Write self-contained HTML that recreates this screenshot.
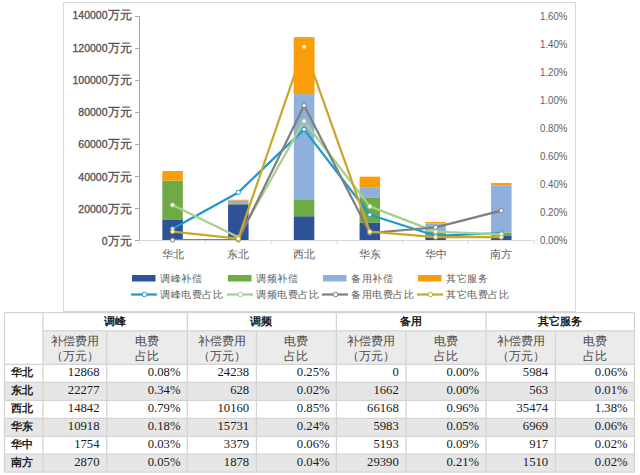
<!DOCTYPE html>
<html><head><meta charset="utf-8">
<style>
html,body{margin:0;padding:0;background:#fff;width:640px;height:475px;overflow:hidden;position:relative}
.ax{font-family:"Liberation Sans",sans-serif;font-size:10.5px;fill:#595959}
.b{fill:#505050;stroke:#505050;stroke-width:0.3px}
.r{font-size:11px;fill:#606060}
.cj{font-size:11.5px}
.lg{font-size:10px;letter-spacing:0.55px}
.th{font-family:"Liberation Serif",serif;font-size:11px;font-weight:bold;fill:#1a1a1a}
.sh{font-family:"Liberation Serif",serif;font-size:12px;fill:#4a4a4a}
.rn{font-family:"Liberation Serif",serif;font-size:11px;font-weight:bold;fill:#1a1a1a}
.td{font-family:"Liberation Serif",serif;font-size:12.7px;fill:#1a1a1a}
</style></head><body>
<svg width="640" height="475" style="position:absolute;left:0;top:0">
<rect x="63.5" y="2.5" width="512" height="309" fill="#fff" stroke="#D9D9D9" stroke-width="1"/>
<line x1="139.5" y1="16" x2="139.5" y2="240" stroke="#A6A6A6" stroke-width="1"/>
<line x1="135" y1="240.5" x2="140" y2="240.5" stroke="#A6A6A6" stroke-width="1"/>
<text x="131.5" y="245.15" text-anchor="end" class="ax b">0<tspan class="cj">万元</tspan></text>
<line x1="135" y1="208.5" x2="140" y2="208.5" stroke="#A6A6A6" stroke-width="1"/>
<text x="131.5" y="212.90" text-anchor="end" class="ax b">20000<tspan class="cj">万元</tspan></text>
<line x1="135" y1="176.5" x2="140" y2="176.5" stroke="#A6A6A6" stroke-width="1"/>
<text x="131.5" y="180.65" text-anchor="end" class="ax b">40000<tspan class="cj">万元</tspan></text>
<line x1="135" y1="144.5" x2="140" y2="144.5" stroke="#A6A6A6" stroke-width="1"/>
<text x="131.5" y="148.40" text-anchor="end" class="ax b">60000<tspan class="cj">万元</tspan></text>
<line x1="135" y1="112.5" x2="140" y2="112.5" stroke="#A6A6A6" stroke-width="1"/>
<text x="131.5" y="116.15" text-anchor="end" class="ax b">80000<tspan class="cj">万元</tspan></text>
<line x1="135" y1="80.5" x2="140" y2="80.5" stroke="#A6A6A6" stroke-width="1"/>
<text x="131.5" y="83.90" text-anchor="end" class="ax b">100000<tspan class="cj">万元</tspan></text>
<line x1="135" y1="48.5" x2="140" y2="48.5" stroke="#A6A6A6" stroke-width="1"/>
<text x="131.5" y="51.65" text-anchor="end" class="ax b">120000<tspan class="cj">万元</tspan></text>
<line x1="135" y1="16.5" x2="140" y2="16.5" stroke="#A6A6A6" stroke-width="1"/>
<text x="131.5" y="19.40" text-anchor="end" class="ax b">140000<tspan class="cj">万元</tspan></text>
<text x="567.5" y="243.5" text-anchor="end" class="ax r" textLength="27.5" lengthAdjust="spacingAndGlyphs">0.00%</text>
<text x="567.5" y="215.5" text-anchor="end" class="ax r" textLength="27.5" lengthAdjust="spacingAndGlyphs">0.20%</text>
<text x="567.5" y="187.5" text-anchor="end" class="ax r" textLength="27.5" lengthAdjust="spacingAndGlyphs">0.40%</text>
<text x="567.5" y="159.5" text-anchor="end" class="ax r" textLength="27.5" lengthAdjust="spacingAndGlyphs">0.60%</text>
<text x="567.5" y="131.5" text-anchor="end" class="ax r" textLength="27.5" lengthAdjust="spacingAndGlyphs">0.80%</text>
<text x="567.5" y="103.5" text-anchor="end" class="ax r" textLength="27.5" lengthAdjust="spacingAndGlyphs">1.00%</text>
<text x="567.5" y="75.5" text-anchor="end" class="ax r" textLength="27.5" lengthAdjust="spacingAndGlyphs">1.20%</text>
<text x="567.5" y="47.5" text-anchor="end" class="ax r" textLength="27.5" lengthAdjust="spacingAndGlyphs">1.40%</text>
<text x="567.5" y="19.5" text-anchor="end" class="ax r" textLength="27.5" lengthAdjust="spacingAndGlyphs">1.60%</text>
<line x1="140" y1="240.5" x2="533" y2="240.5" stroke="#D9D9D9" stroke-width="1"/>
<line x1="139.7" y1="240" x2="139.7" y2="244" stroke="#D9D9D9" stroke-width="1"/>
<line x1="205.4" y1="240" x2="205.4" y2="244" stroke="#D9D9D9" stroke-width="1"/>
<line x1="271.2" y1="240" x2="271.2" y2="244" stroke="#D9D9D9" stroke-width="1"/>
<line x1="336.9" y1="240" x2="336.9" y2="244" stroke="#D9D9D9" stroke-width="1"/>
<line x1="402.7" y1="240" x2="402.7" y2="244" stroke="#D9D9D9" stroke-width="1"/>
<line x1="468.4" y1="240" x2="468.4" y2="244" stroke="#D9D9D9" stroke-width="1"/>
<line x1="534.2" y1="240" x2="534.2" y2="244" stroke="#D9D9D9" stroke-width="1"/>
<text x="172.6" y="258" text-anchor="middle" class="ax">华北</text>
<text x="238.3" y="258" text-anchor="middle" class="ax">东北</text>
<text x="304.1" y="258" text-anchor="middle" class="ax">西北</text>
<text x="369.8" y="258" text-anchor="middle" class="ax">华东</text>
<text x="435.6" y="258" text-anchor="middle" class="ax">华中</text>
<text x="501.3" y="258" text-anchor="middle" class="ax">南方</text>
<rect x="162.32" y="219.41" width="20.5" height="20.59" fill="#2E5296"/>
<rect x="162.32" y="180.63" width="20.5" height="38.78" fill="#6EAA45"/>
<rect x="162.32" y="171.06" width="20.5" height="9.57" fill="#FA9D0A"/>
<rect x="228.07" y="204.36" width="20.5" height="35.64" fill="#2E5296"/>
<rect x="228.07" y="203.35" width="20.5" height="1.00" fill="#6EAA45"/>
<rect x="228.07" y="200.69" width="20.5" height="2.66" fill="#8FB0DD"/>
<rect x="228.07" y="199.79" width="20.5" height="0.90" fill="#FA9D0A"/>
<rect x="293.82" y="216.25" width="20.5" height="23.75" fill="#2E5296"/>
<rect x="293.82" y="200.00" width="20.5" height="16.26" fill="#6EAA45"/>
<rect x="293.82" y="94.13" width="20.5" height="105.87" fill="#8FB0DD"/>
<rect x="293.82" y="37.37" width="20.5" height="56.76" fill="#FA9D0A"/>
<rect x="359.57" y="222.53" width="20.5" height="17.47" fill="#2E5296"/>
<rect x="359.57" y="197.36" width="20.5" height="25.17" fill="#6EAA45"/>
<rect x="359.57" y="187.79" width="20.5" height="9.57" fill="#8FB0DD"/>
<rect x="359.57" y="176.64" width="20.5" height="11.15" fill="#FA9D0A"/>
<rect x="425.32" y="237.19" width="20.5" height="2.81" fill="#2E5296"/>
<rect x="425.32" y="231.79" width="20.5" height="5.41" fill="#6EAA45"/>
<rect x="425.32" y="223.48" width="20.5" height="8.31" fill="#8FB0DD"/>
<rect x="425.32" y="222.01" width="20.5" height="1.47" fill="#FA9D0A"/>
<rect x="491.07" y="235.41" width="20.5" height="4.59" fill="#2E5296"/>
<rect x="491.07" y="232.40" width="20.5" height="3.00" fill="#6EAA45"/>
<rect x="491.07" y="185.38" width="20.5" height="47.02" fill="#8FB0DD"/>
<rect x="491.07" y="182.96" width="20.5" height="2.42" fill="#FA9D0A"/>
<defs><clipPath id="pc"><rect x="100" y="0" width="460" height="240"/></clipPath></defs>
<polyline points="172.57,228.80 238.32,192.40 304.07,129.40 369.82,214.80 435.57,235.80 501.32,233.00" fill="none" stroke="#1C9AD0" stroke-width="2.25" stroke-linejoin="round" clip-path="url(#pc)"/>
<circle cx="172.57" cy="228.80" r="2.1" fill="#fff" stroke="#1C9AD0" stroke-width="1"/>
<circle cx="238.32" cy="192.40" r="2.1" fill="#fff" stroke="#1C9AD0" stroke-width="1"/>
<circle cx="304.07" cy="129.40" r="2.1" fill="#fff" stroke="#1C9AD0" stroke-width="1"/>
<circle cx="369.82" cy="214.80" r="2.1" fill="#fff" stroke="#1C9AD0" stroke-width="1"/>
<circle cx="435.57" cy="235.80" r="2.1" fill="#fff" stroke="#1C9AD0" stroke-width="1"/>
<circle cx="501.32" cy="233.00" r="2.1" fill="#fff" stroke="#1C9AD0" stroke-width="1"/>
<polyline points="172.57,205.00 238.32,237.20 304.07,121.00 369.82,206.40 435.57,231.60 501.32,234.40" fill="none" stroke="#A8D08D" stroke-width="2.25" stroke-linejoin="round" clip-path="url(#pc)"/>
<circle cx="172.57" cy="205.00" r="2.1" fill="#fff" stroke="#A8D08D" stroke-width="1"/>
<circle cx="238.32" cy="237.20" r="2.1" fill="#fff" stroke="#A8D08D" stroke-width="1"/>
<circle cx="304.07" cy="121.00" r="2.1" fill="#fff" stroke="#A8D08D" stroke-width="1"/>
<circle cx="369.82" cy="206.40" r="2.1" fill="#fff" stroke="#A8D08D" stroke-width="1"/>
<circle cx="435.57" cy="231.60" r="2.1" fill="#fff" stroke="#A8D08D" stroke-width="1"/>
<circle cx="501.32" cy="234.40" r="2.1" fill="#fff" stroke="#A8D08D" stroke-width="1"/>
<polyline points="172.57,240.00 238.32,240.00 304.07,105.60 369.82,233.00 435.57,227.40 501.32,210.60" fill="none" stroke="#7F7F7F" stroke-width="2.25" stroke-linejoin="round" clip-path="url(#pc)"/>
<circle cx="172.57" cy="240.00" r="2.1" fill="#fff" stroke="#7F7F7F" stroke-width="1"/>
<circle cx="238.32" cy="240.00" r="2.1" fill="#fff" stroke="#7F7F7F" stroke-width="1"/>
<circle cx="304.07" cy="105.60" r="2.1" fill="#fff" stroke="#7F7F7F" stroke-width="1"/>
<circle cx="369.82" cy="233.00" r="2.1" fill="#fff" stroke="#7F7F7F" stroke-width="1"/>
<circle cx="435.57" cy="227.40" r="2.1" fill="#fff" stroke="#7F7F7F" stroke-width="1"/>
<circle cx="501.32" cy="210.60" r="2.1" fill="#fff" stroke="#7F7F7F" stroke-width="1"/>
<polyline points="172.57,231.60 238.32,238.60 304.07,46.80 369.82,231.60 435.57,237.20 501.32,237.20" fill="none" stroke="#C8A82A" stroke-width="2.25" stroke-linejoin="round" clip-path="url(#pc)"/>
<circle cx="172.57" cy="231.60" r="2.1" fill="#fff" stroke="#C8A82A" stroke-width="1"/>
<circle cx="238.32" cy="238.60" r="2.1" fill="#fff" stroke="#C8A82A" stroke-width="1"/>
<circle cx="304.07" cy="46.80" r="2.1" fill="#fff" stroke="#C8A82A" stroke-width="1"/>
<circle cx="369.82" cy="231.60" r="2.1" fill="#fff" stroke="#C8A82A" stroke-width="1"/>
<circle cx="435.57" cy="237.20" r="2.1" fill="#fff" stroke="#C8A82A" stroke-width="1"/>
<circle cx="501.32" cy="237.20" r="2.1" fill="#fff" stroke="#C8A82A" stroke-width="1"/>
<rect x="293.82" y="37.37" width="20.5" height="56.76" fill="#FA9D0A"/>
<circle cx="304.07" cy="46.80" r="2" fill="#FFF3C0"/>
<rect x="132" y="275" width="23.5" height="6.5" fill="#2E5296"/>
<text x="160" y="282" class="ax lg">调峰补偿</text>
<line x1="131" y1="294.5" x2="157" y2="294.5" stroke="#1C9AD0" stroke-width="2.25"/>
<circle cx="144.5" cy="294.5" r="2.3" fill="#fff" stroke="#1C9AD0" stroke-width="1"/>
<text x="160" y="297.5" class="ax lg">调峰电费占比</text>
<rect x="228" y="275" width="23.5" height="6.5" fill="#6EAA45"/>
<text x="256" y="282" class="ax lg">调频补偿</text>
<line x1="227" y1="294.5" x2="253" y2="294.5" stroke="#A8D08D" stroke-width="2.25"/>
<circle cx="240.5" cy="294.5" r="2.3" fill="#fff" stroke="#A8D08D" stroke-width="1"/>
<text x="256" y="297.5" class="ax lg">调频电费占比</text>
<rect x="323" y="275" width="23.5" height="6.5" fill="#8FB0DD"/>
<text x="351" y="282" class="ax lg">备用补偿</text>
<line x1="322" y1="294.5" x2="348" y2="294.5" stroke="#7F7F7F" stroke-width="2.25"/>
<circle cx="335.5" cy="294.5" r="2.3" fill="#fff" stroke="#7F7F7F" stroke-width="1"/>
<text x="351" y="297.5" class="ax lg">备用电费占比</text>
<rect x="418" y="275" width="23.5" height="6.5" fill="#FA9D0A"/>
<text x="446" y="282" class="ax lg">其它服务</text>
<line x1="417" y1="294.5" x2="443" y2="294.5" stroke="#C8A82A" stroke-width="2.25"/>
<circle cx="430.5" cy="294.5" r="2.3" fill="#fff" stroke="#C8A82A" stroke-width="1"/>
<text x="446" y="297.5" class="ax lg">其它电费占比</text>
<rect x="42.9" y="330.8" width="591.5" height="33.599999999999966" fill="#EBEBEB"/>
<rect x="4.5" y="382.4" width="629.9" height="18.0" fill="#E6E6E6"/>
<rect x="4.5" y="418.3" width="629.9" height="18.0" fill="#E6E6E6"/>
<rect x="4.5" y="454.2" width="629.9" height="18.0" fill="#E6E6E6"/>
<line x1="4.5" y1="312.7" x2="634.4" y2="312.7" stroke="#D4D4D4" stroke-width="1.3"/>
<line x1="42.9" y1="330.8" x2="634.4" y2="330.8" stroke="#D4D4D4" stroke-width="1.3"/>
<line x1="4.5" y1="364.4" x2="634.4" y2="364.4" stroke="#D4D4D4" stroke-width="1.3"/>
<line x1="4.5" y1="382.4" x2="634.4" y2="382.4" stroke="#D4D4D4" stroke-width="1.3"/>
<line x1="4.5" y1="400.4" x2="634.4" y2="400.4" stroke="#D4D4D4" stroke-width="1.3"/>
<line x1="4.5" y1="418.3" x2="634.4" y2="418.3" stroke="#D4D4D4" stroke-width="1.3"/>
<line x1="4.5" y1="436.3" x2="634.4" y2="436.3" stroke="#D4D4D4" stroke-width="1.3"/>
<line x1="4.5" y1="454.2" x2="634.4" y2="454.2" stroke="#D4D4D4" stroke-width="1.3"/>
<line x1="4.5" y1="472.2" x2="634.4" y2="472.2" stroke="#D4D4D4" stroke-width="1.3"/>
<line x1="4.5" y1="312.7" x2="4.5" y2="472.2" stroke="#D4D4D4" stroke-width="1.3"/>
<line x1="42.9" y1="312.7" x2="42.9" y2="472.2" stroke="#D4D4D4" stroke-width="1.3"/>
<line x1="106.7" y1="330.8" x2="106.7" y2="472.2" stroke="#D4D4D4" stroke-width="1.3"/>
<line x1="187.3" y1="312.7" x2="187.3" y2="472.2" stroke="#D4D4D4" stroke-width="1.3"/>
<line x1="256.4" y1="330.8" x2="256.4" y2="472.2" stroke="#D4D4D4" stroke-width="1.3"/>
<line x1="336.4" y1="312.7" x2="336.4" y2="472.2" stroke="#D4D4D4" stroke-width="1.3"/>
<line x1="406.0" y1="330.8" x2="406.0" y2="472.2" stroke="#D4D4D4" stroke-width="1.3"/>
<line x1="486.0" y1="312.7" x2="486.0" y2="472.2" stroke="#D4D4D4" stroke-width="1.3"/>
<line x1="555.4" y1="330.8" x2="555.4" y2="472.2" stroke="#D4D4D4" stroke-width="1.3"/>
<line x1="634.4" y1="312.7" x2="634.4" y2="472.2" stroke="#D4D4D4" stroke-width="1.3"/>
<text x="114.6" y="324.7" text-anchor="middle" class="th">调峰</text>
<text x="74.8" y="344.8" text-anchor="middle" class="sh">补偿费用</text>
<text x="74.8" y="359.8" text-anchor="middle" class="sh">（万元）</text>
<text x="147.0" y="344.8" text-anchor="middle" class="sh">电费</text>
<text x="147.0" y="359.8" text-anchor="middle" class="sh">占比</text>
<text x="261.4" y="324.7" text-anchor="middle" class="th">调频</text>
<text x="221.8" y="344.8" text-anchor="middle" class="sh">补偿费用</text>
<text x="221.8" y="359.8" text-anchor="middle" class="sh">（万元）</text>
<text x="296.4" y="344.8" text-anchor="middle" class="sh">电费</text>
<text x="296.4" y="359.8" text-anchor="middle" class="sh">占比</text>
<text x="410.7" y="324.7" text-anchor="middle" class="th">备用</text>
<text x="371.2" y="344.8" text-anchor="middle" class="sh">补偿费用</text>
<text x="371.2" y="359.8" text-anchor="middle" class="sh">（万元）</text>
<text x="446.0" y="344.8" text-anchor="middle" class="sh">电费</text>
<text x="446.0" y="359.8" text-anchor="middle" class="sh">占比</text>
<text x="559.7" y="324.7" text-anchor="middle" class="th">其它服务</text>
<text x="520.7" y="344.8" text-anchor="middle" class="sh">补偿费用</text>
<text x="520.7" y="359.8" text-anchor="middle" class="sh">（万元）</text>
<text x="594.9" y="344.8" text-anchor="middle" class="sh">电费</text>
<text x="594.9" y="359.8" text-anchor="middle" class="sh">占比</text>
<text x="22.2" y="376.2" text-anchor="middle" class="rn">华北</text>
<text x="99.5" y="376.2" text-anchor="end" class="td">12868</text>
<text x="180.5" y="376.2" text-anchor="end" class="td">0.08%</text>
<text x="249.2" y="376.2" text-anchor="end" class="td">24238</text>
<text x="329.59999999999997" y="376.2" text-anchor="end" class="td">0.25%</text>
<text x="398.8" y="376.2" text-anchor="end" class="td">0</text>
<text x="479.2" y="376.2" text-anchor="end" class="td">0.00%</text>
<text x="548.1999999999999" y="376.2" text-anchor="end" class="td">5984</text>
<text x="627.6" y="376.2" text-anchor="end" class="td">0.06%</text>
<text x="22.2" y="394.2" text-anchor="middle" class="rn">东北</text>
<text x="99.5" y="394.2" text-anchor="end" class="td">22277</text>
<text x="180.5" y="394.2" text-anchor="end" class="td">0.34%</text>
<text x="249.2" y="394.2" text-anchor="end" class="td">628</text>
<text x="329.59999999999997" y="394.2" text-anchor="end" class="td">0.02%</text>
<text x="398.8" y="394.2" text-anchor="end" class="td">1662</text>
<text x="479.2" y="394.2" text-anchor="end" class="td">0.00%</text>
<text x="548.1999999999999" y="394.2" text-anchor="end" class="td">563</text>
<text x="627.6" y="394.2" text-anchor="end" class="td">0.01%</text>
<text x="22.2" y="412.2" text-anchor="middle" class="rn">西北</text>
<text x="99.5" y="412.2" text-anchor="end" class="td">14842</text>
<text x="180.5" y="412.2" text-anchor="end" class="td">0.79%</text>
<text x="249.2" y="412.2" text-anchor="end" class="td">10160</text>
<text x="329.59999999999997" y="412.2" text-anchor="end" class="td">0.85%</text>
<text x="398.8" y="412.2" text-anchor="end" class="td">66168</text>
<text x="479.2" y="412.2" text-anchor="end" class="td">0.96%</text>
<text x="548.1999999999999" y="412.2" text-anchor="end" class="td">35474</text>
<text x="627.6" y="412.2" text-anchor="end" class="td">1.38%</text>
<text x="22.2" y="430.1" text-anchor="middle" class="rn">华东</text>
<text x="99.5" y="430.1" text-anchor="end" class="td">10918</text>
<text x="180.5" y="430.1" text-anchor="end" class="td">0.18%</text>
<text x="249.2" y="430.1" text-anchor="end" class="td">15731</text>
<text x="329.59999999999997" y="430.1" text-anchor="end" class="td">0.24%</text>
<text x="398.8" y="430.1" text-anchor="end" class="td">5983</text>
<text x="479.2" y="430.1" text-anchor="end" class="td">0.05%</text>
<text x="548.1999999999999" y="430.1" text-anchor="end" class="td">6969</text>
<text x="627.6" y="430.1" text-anchor="end" class="td">0.06%</text>
<text x="22.2" y="448.1" text-anchor="middle" class="rn">华中</text>
<text x="99.5" y="448.1" text-anchor="end" class="td">1754</text>
<text x="180.5" y="448.1" text-anchor="end" class="td">0.03%</text>
<text x="249.2" y="448.1" text-anchor="end" class="td">3379</text>
<text x="329.59999999999997" y="448.1" text-anchor="end" class="td">0.06%</text>
<text x="398.8" y="448.1" text-anchor="end" class="td">5193</text>
<text x="479.2" y="448.1" text-anchor="end" class="td">0.09%</text>
<text x="548.1999999999999" y="448.1" text-anchor="end" class="td">917</text>
<text x="627.6" y="448.1" text-anchor="end" class="td">0.02%</text>
<text x="22.2" y="466.0" text-anchor="middle" class="rn">南方</text>
<text x="99.5" y="466.0" text-anchor="end" class="td">2870</text>
<text x="180.5" y="466.0" text-anchor="end" class="td">0.05%</text>
<text x="249.2" y="466.0" text-anchor="end" class="td">1878</text>
<text x="329.59999999999997" y="466.0" text-anchor="end" class="td">0.04%</text>
<text x="398.8" y="466.0" text-anchor="end" class="td">29390</text>
<text x="479.2" y="466.0" text-anchor="end" class="td">0.21%</text>
<text x="548.1999999999999" y="466.0" text-anchor="end" class="td">1510</text>
<text x="627.6" y="466.0" text-anchor="end" class="td">0.02%</text>
</svg>
</body></html>
